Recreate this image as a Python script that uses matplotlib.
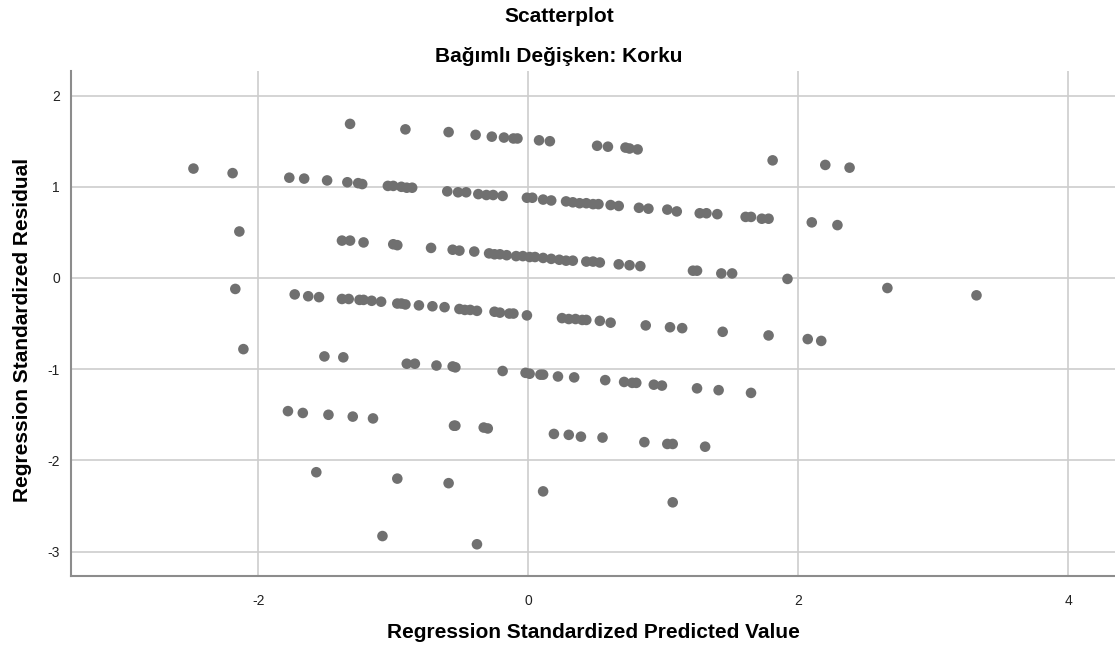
import matplotlib
matplotlib.use("Agg")
import matplotlib.pyplot as plt

plt.rcParams['font.family'] = ['Liberation Sans', 'DejaVu Sans']
plt.rcParams['axes.unicode_minus'] = False

# okunan noktalar, her bant ayri (x = tahmin, y = artik)
pred_a = [-1.32, -0.91, -0.59, -0.39, -0.27, -0.18, -0.11, -0.08, 0.08, 0.16,
          0.51, 0.59, 0.72, 0.75, 0.81, 1.81, 2.20, 2.38]
resid_a = [1.69, 1.63, 1.60, 1.57, 1.55, 1.54, 1.53, 1.53, 1.51, 1.50,
           1.45, 1.44, 1.43, 1.42, 1.41, 1.29, 1.24, 1.21]

pred_b = [-2.48, -2.19, -1.77, -1.66, -1.49, -1.34, -1.26, -1.23, -1.04, -1.00,
          -0.94, -0.90, -0.86, -0.60, -0.52, -0.46, -0.37, -0.31, -0.26, -0.19,
          -0.01, 0.03, 0.11, 0.17, 0.28, 0.33, 0.38, 0.43, 0.48, 0.52,
          0.61, 0.67, 0.82, 0.89, 1.03, 1.10, 1.27, 1.32, 1.40, 1.61,
          1.65, 1.73, 1.78, 2.10, 2.29]
resid_b = [1.20, 1.15, 1.10, 1.09, 1.07, 1.05, 1.04, 1.03, 1.01, 1.01,
           1.00, 0.99, 0.99, 0.95, 0.94, 0.94, 0.92, 0.91, 0.91, 0.90,
           0.88, 0.88, 0.86, 0.85, 0.84, 0.83, 0.82, 0.82, 0.81, 0.81,
           0.80, 0.79, 0.77, 0.76, 0.75, 0.73, 0.71, 0.71, 0.70, 0.67,
           0.67, 0.65, 0.65, 0.61, 0.58]

pred_c = [-2.14, -1.38, -1.32, -1.22, -1.00, -0.97, -0.72, -0.56, -0.51, -0.40,
          -0.29, -0.25, -0.21, -0.16, -0.09, -0.04, 0.01, 0.05, 0.11, 0.17,
          0.23, 0.28, 0.33, 0.43, 0.48, 0.53, 0.67, 0.75, 0.83, 1.22,
          1.25, 1.43, 1.51, 1.92, 2.66, 3.32]
resid_c = [0.51, 0.41, 0.41, 0.39, 0.37, 0.36, 0.33, 0.31, 0.30, 0.29,
           0.27, 0.26, 0.26, 0.25, 0.24, 0.24, 0.23, 0.23, 0.22, 0.21,
           0.20, 0.19, 0.19, 0.18, 0.18, 0.17, 0.15, 0.14, 0.13, 0.08,
           0.08, 0.05, 0.05, -0.01, -0.11, -0.19]

pred_d = [-2.17, -1.73, -1.63, -1.55, -1.38, -1.33, -1.25, -1.22, -1.16, -1.09,
          -0.97, -0.94, -0.91, -0.81, -0.71, -0.62, -0.51, -0.47, -0.43, -0.38,
          -0.25, -0.21, -0.14, -0.11, -0.01, 0.25, 0.30, 0.35, 0.40, 0.43,
          0.53, 0.61, 0.87, 1.05, 1.14, 1.44, 1.78, 2.07, 2.17]
resid_d = [-0.12, -0.18, -0.20, -0.21, -0.23, -0.23, -0.24, -0.24, -0.25, -0.26,
           -0.28, -0.28, -0.29, -0.30, -0.31, -0.32, -0.34, -0.35, -0.35, -0.36,
           -0.37, -0.38, -0.39, -0.39, -0.41, -0.44, -0.45, -0.45, -0.46, -0.46,
           -0.47, -0.49, -0.52, -0.54, -0.55, -0.59, -0.63, -0.67, -0.69]

pred_e = [-2.11, -1.51, -1.37, -0.90, -0.84, -0.68, -0.56, -0.54, -0.19, -0.02,
          0.01, 0.09, 0.11, 0.22, 0.34, 0.57, 0.71, 0.77, 0.80, 0.93,
          0.99, 1.25, 1.41, 1.65]
resid_e = [-0.78, -0.86, -0.87, -0.94, -0.94, -0.96, -0.97, -0.98, -1.02, -1.04,
           -1.05, -1.06, -1.06, -1.08, -1.09, -1.12, -1.14, -1.15, -1.15, -1.17,
           -1.18, -1.21, -1.23, -1.26]

pred_f = [-1.78, -1.67, -1.48, -1.30, -1.15, -0.55, -0.54, -0.33, -0.30, 0.19,
          0.30, 0.39, 0.55, 0.86, 1.03, 1.07, 1.31]
resid_f = [-1.46, -1.48, -1.50, -1.52, -1.54, -1.62, -1.62, -1.64, -1.65, -1.71,
           -1.72, -1.74, -1.75, -1.80, -1.82, -1.82, -1.85]

pred_g = [-1.57, -0.97, -0.59, 0.11, 1.07, -1.08, -0.38]
resid_g = [-2.13, -2.20, -2.25, -2.34, -2.46, -2.83, -2.92]

bands = [(pred_a, resid_a), (pred_b, resid_b), (pred_c, resid_c), (pred_d, resid_d),
         (pred_e, resid_e), (pred_f, resid_f), (pred_g, resid_g)]

xticks = [-2, 0, 2, 4]
yticks = [-3, -2, -1, 0, 1, 2]

W, H = 1115, 647
fig = plt.figure(figsize=(W / 100, H / 100), dpi=100)
ax = fig.add_axes([71 / W, (H - 576) / H, (W - 71) / W, (576 - 71) / H])

for px, ry in bands:
    ax.scatter(px, ry, s=58, color="#707070", edgecolors="none", zorder=3)

ax.set_xlim(-3.387, 4.346)
ax.set_ylim(-3.268, 2.270)
ax.set_xticks(xticks)
ax.set_yticks(yticks)
ax.grid(True, color="#cdcdcd", linewidth=1.2)
ax.set_axisbelow(True)
ax.tick_params(length=0, labelsize=10, colors="#222222")
ax.tick_params(axis="x", pad=13)
ax.tick_params(axis="y", pad=8)
for side in ["top", "right"]:
    ax.spines[side].set_visible(False)
for side in ["left", "bottom"]:
    ax.spines[side].set_color("#8c8c8c")
    ax.spines[side].set_linewidth(1.5)

ax.set_xlabel("Regression Standardized Predicted Value", fontsize=15, fontweight="bold")
ax.xaxis.set_label_coords(0.5, -(633 - 576) / (576 - 71), transform=ax.transAxes)
ax.xaxis.label.set_verticalalignment("center")
ax.set_ylabel("Regression Standardized Residual", fontsize=15, fontweight="bold")
ax.yaxis.set_label_coords(-(71 - 23) / (W - 71), 0.5 - (330 - 323.5) / (576 - 71))
ax.yaxis.label.set_verticalalignment("center")

fig.text(559 / W, 1 - 17 / H, "Scatterplot", ha="center", va="center",
         fontsize=15, fontweight="bold")
fig.text(559 / W, 1 - 56 / H, "Bağımlı Değişken: Korku", ha="center", va="center",
         fontsize=15, fontweight="bold")

plt.savefig("out.png", dpi=100)
